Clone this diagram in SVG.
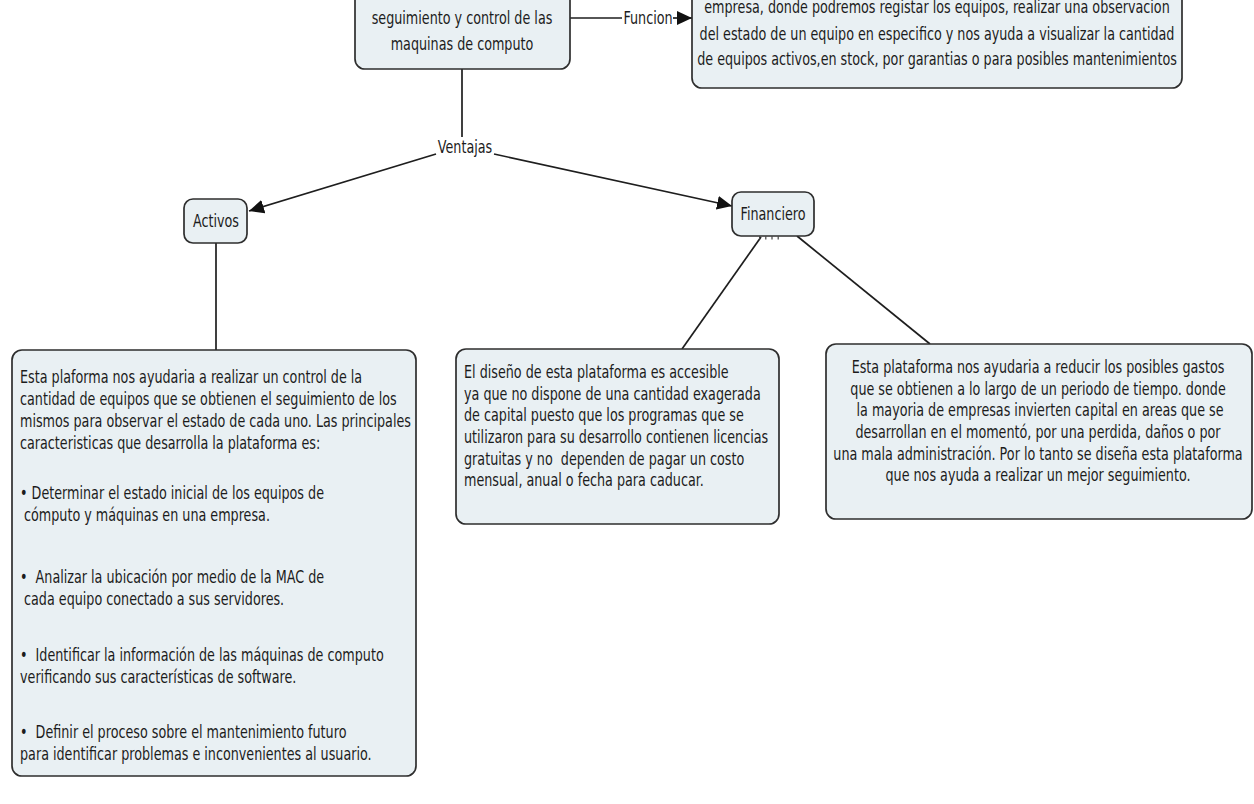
<svg xmlns="http://www.w3.org/2000/svg" width="1254" height="804" viewBox="0 0 1254 804">
<defs>
<style>
.box{fill:#e9f0f3;stroke:#2e2e2e;stroke-width:1.7}
.t{font-family:"DejaVu Sans","Verdana",sans-serif;font-size:17px;fill:#1c1c1c}
.c{text-anchor:middle}
.ln{fill:none;stroke:#1e1e1e;stroke-width:1.7}
</style>
<marker id="ah" markerUnits="userSpaceOnUse" markerWidth="16" markerHeight="14" refX="15" refY="7" orient="auto">
<path d="M0,0 L15,7 L0,14 Z" fill="#111"/>
</marker>
</defs>
<rect width="1254" height="804" fill="#fff"/>

<g id="connectors">
<path class="ln" d="M570,18 L622,18"/>
<path class="ln" d="M673,18 L692,18" marker-end="url(#ah)"/>
<path class="ln" d="M462,69 L462,137"/>
<path class="ln" d="M436,154 L249,211" marker-end="url(#ah)"/>
<path class="ln" d="M494,154 L732,206" marker-end="url(#ah)"/>
<path class="ln" d="M216,243 L216,350"/>
<path class="ln" d="M761,237 L682,349"/>
<path class="ln" d="M797,236 L930,344"/>
<path d="M759,238 L781,238" stroke="#444" stroke-width="3" stroke-dasharray="1.2 5" fill="none"/>
</g>

<g id="label-funcion">
<g transform="translate(648,0) scale(0.75,1)"><text class="t c" x="0" y="24">Funcion</text></g>
</g>
<g id="label-ventajas">
<g transform="translate(465,0) scale(0.75,1)"><text class="t c" x="0" y="153">Ventajas</text></g>
</g>

<g id="node-seguimiento">
<rect class="box" x="355" y="-40" width="215" height="109" rx="10"/>
<g transform="translate(462,0) scale(0.75,1)">
<text class="t c" x="0" y="24">seguimiento y control de las</text>
<text class="t c" x="0" y="50">maquinas de computo</text>
</g>
</g>

<g id="node-funcion">
<rect class="box" x="692" y="-40" width="490" height="128" rx="10"/>
<g transform="translate(937,0) scale(0.75,1)">
<text class="t c" x="0" y="13">empresa, donde podremos registar los equipos, realizar una observacion</text>
<text class="t c" x="0" y="40">del estado de un equipo en especifico y nos ayuda a visualizar la cantidad</text>
<text class="t c" x="0" y="65">de equipos activos,en stock, por garantias o para posibles mantenimientos</text>
</g>
</g>

<g id="node-activos">
<rect class="box" x="184" y="199" width="63" height="44" rx="9"/>
<g transform="translate(216,0) scale(0.75,1)"><text class="t c" x="0" y="227">Activos</text></g>
</g>

<g id="node-financiero">
<rect class="box" x="732" y="192" width="82" height="44" rx="9"/>
<g transform="translate(773,0) scale(0.75,1)"><text class="t c" x="0" y="220">Financiero</text></g>
</g>

<g id="node-activos-detalle">
<rect class="box" x="12" y="350" width="404" height="426" rx="10"/>
<g transform="translate(20,0) scale(0.75,1)">
<text class="t" x="0" y="383">Esta plaforma nos ayudaria a realizar un control de la</text>
<text class="t" x="0" y="405">cantidad de equipos que se obtienen el seguimiento de los</text>
<text class="t" x="0" y="427">mismos para observar el estado de cada uno. Las principales</text>
<text class="t" x="0" y="449">caracteristicas que desarrolla la plataforma es:</text>
<text class="t" x="0" y="499">• Determinar el estado inicial de los equipos de</text>
<text class="t" x="0" y="521" xml:space="preserve"> cómputo y máquinas en una empresa.</text>
<text class="t" x="0" y="583" xml:space="preserve">•  Analizar la ubicación por medio de la MAC de</text>
<text class="t" x="0" y="605" xml:space="preserve"> cada equipo conectado a sus servidores.</text>
<text class="t" x="0" y="661" xml:space="preserve">•  Identificar la información de las máquinas de computo</text>
<text class="t" x="0" y="683">verificando sus características de software.</text>
<text class="t" x="0" y="738" xml:space="preserve">•  Definir el proceso sobre el mantenimiento futuro</text>
<text class="t" x="0" y="760">para identificar problemas e inconvenientes al usuario.</text>
</g>
</g>

<g id="node-financiero-diseno">
<rect class="box" x="456" y="349" width="323" height="175" rx="10"/>
<g transform="translate(464,0) scale(0.75,1)">
<text class="t" x="0" y="378">El diseño de esta plataforma es accesible</text>
<text class="t" x="0" y="400">ya que no dispone de una cantidad exagerada</text>
<text class="t" x="0" y="421">de capital puesto que los programas que se</text>
<text class="t" x="0" y="443">utilizaron para su desarrollo contienen licencias</text>
<text class="t" x="0" y="465" xml:space="preserve">gratuitas y no  dependen de pagar un costo</text>
<text class="t" x="0" y="486">mensual, anual o fecha para caducar.</text>
</g>
</g>

<g id="node-financiero-gastos">
<rect class="box" x="826" y="344" width="426" height="175" rx="10"/>
<g transform="translate(1038,0) scale(0.75,1)">
<text class="t c" x="0" y="373">Esta plataforma nos ayudaria a reducir los posibles gastos</text>
<text class="t c" x="0" y="395">que se obtienen a lo largo de un periodo de tiempo. donde</text>
<text class="t c" x="0" y="416" xml:space="preserve"> la mayoria de empresas invierten capital en areas que se</text>
<text class="t c" x="0" y="438">desarrollan en el momentó, por una perdida, daños o por</text>
<text class="t c" x="0" y="460">una mala administración. Por lo tanto se diseña esta plataforma</text>
<text class="t c" x="0" y="481">que nos ayuda a realizar un mejor seguimiento.</text>
</g>
</g>
</svg>
